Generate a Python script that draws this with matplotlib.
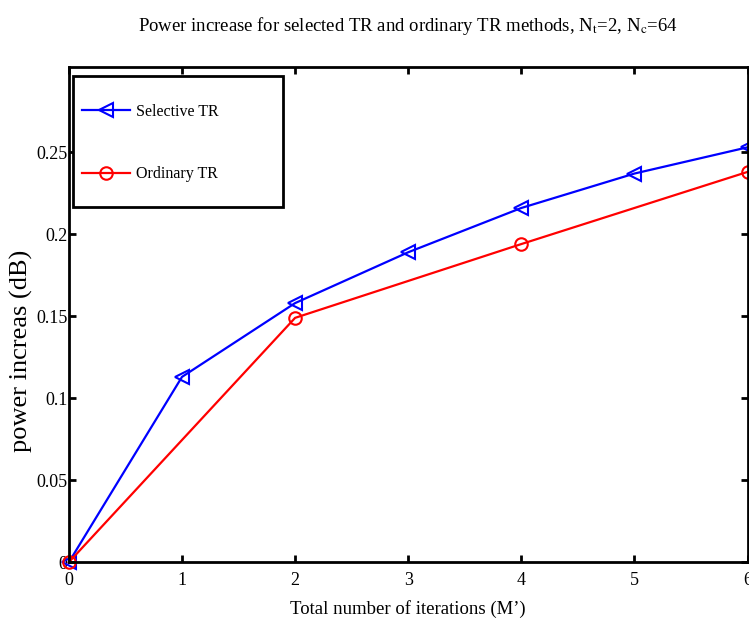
import matplotlib
matplotlib.use("Agg")
from matplotlib import pyplot as plt
from matplotlib.patches import Rectangle
import numpy as np

iters_sel = np.array([0, 1, 2, 3, 4, 5, 6], dtype=float)
pow_sel = np.array([0, 0.113, 0.158, 0.189, 0.216, 0.237, 0.253], dtype=float)

iters_ord = np.array([0, 2, 4, 6], dtype=float)
pow_ord = np.array([0, 0.149, 0.194, 0.238], dtype=float)

xticks = [0, 1, 2, 3, 4, 5, 6]
yticks = [0, 0.05, 0.1, 0.15, 0.2, 0.25]
ytick_labels = ["0", "0.05", "0.1", "0.15", "0.2", "0.25"]

plt.rcParams['font.family'] = ['Liberation Serif', 'DejaVu Serif']
plt.rcParams['mathtext.fontset'] = 'stix'

fig = plt.figure(figsize=(7.49, 6.26), dpi=100)
ax = fig.add_axes([0.092, 0.102, 0.906, 0.791])

ax.plot(iters_sel, pow_sel, color='#0000ff', lw=1.6, marker='<', ms=10,
        mfc='none', mec='#0000ff', mew=1.5, label='Selective TR', clip_on=False)
ax.plot(iters_ord, pow_ord, color='#ff0000', lw=1.6, marker='o', ms=9,
        mfc='none', mec='#ff0000', mew=1.5, label='Ordinary TR', clip_on=False)

ax.set_xlim(0, 6)
ax.set_ylim(0, 0.302)
ax.set_xticks(xticks)
ax.set_yticks(yticks)
ax.set_yticklabels(ytick_labels)

ax.tick_params(direction='in', length=5, width=2, top=True, right=True, labelsize=13)
ax.tick_params(axis='x', pad=7)
ax.tick_params(axis='y', pad=1)
for sp in ax.spines.values():
    sp.set_linewidth(2)

ax.set_title(r"Power increase for selected TR and ordinary TR methods, N$_\mathrm{t}$=2, N$_\mathrm{c}$=64",
             fontsize=13.5, pad=26)
ax.set_xlabel("Total number of iterations (M\u2019)", fontsize=13.5, labelpad=8)
ax.set_ylabel("power increas (dB)", fontsize=19)
ax.yaxis.set_label_coords(-0.053, 0.426)

# legend box drawn separately: tall padding top/bottom, small on the left
box = Rectangle((0.006, 0.718), 0.31, 0.264, transform=ax.transAxes,
                fc='white', ec='black', lw=2, zorder=4)
ax.add_patch(box)
leg = ax.legend(loc='upper left', bbox_to_anchor=(0.0124, 0.935), frameon=False,
                fontsize=11.5, handlelength=3.0, handletextpad=0.35, labelspacing=2.9,
                borderpad=0.3, borderaxespad=0)
leg.set_zorder(5)

fig.savefig("out.png", dpi=100)
